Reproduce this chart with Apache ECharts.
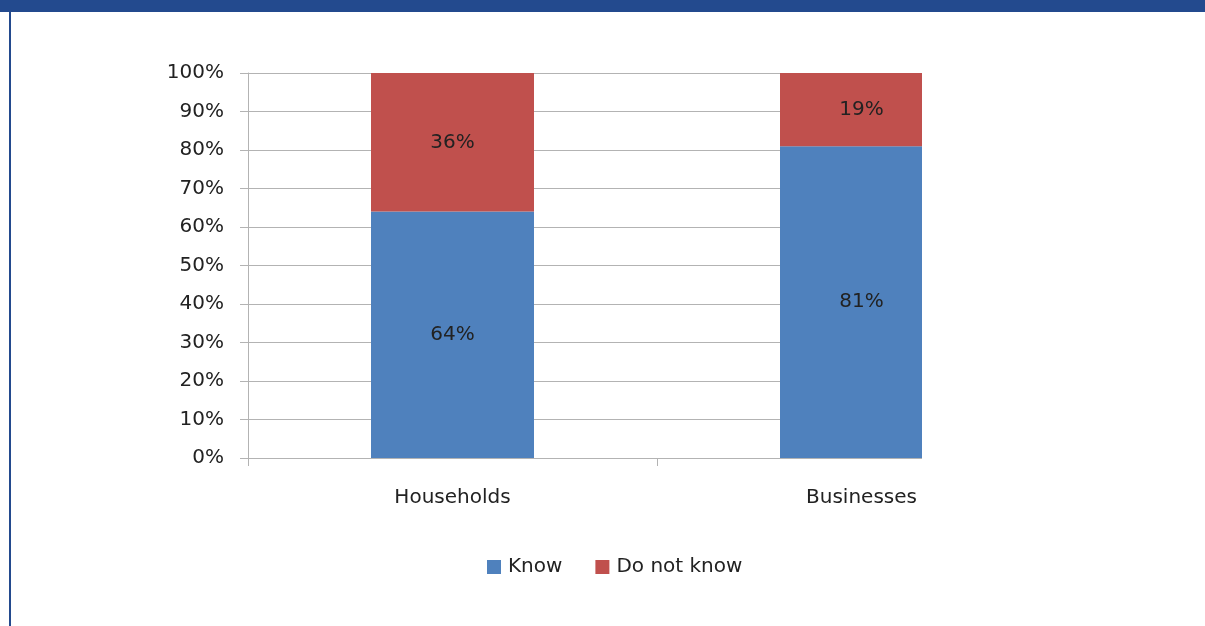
<!DOCTYPE html>
<html>
<head>
<meta charset="utf-8">
<script src="https://cdn.jsdelivr.net/npm/echarts@6/dist/echarts.min.js"></script>
<style>
  html, body { margin: 0; padding: 0; background: #fff; }
  #wrap { position: relative; width: 1205px; height: 626px; overflow: hidden; background: #fff; }
  #banner { position: absolute; left: 0; top: 0; width: 1205px; height: 12px; background: #234A8E; }
  #leftline { position: absolute; left: 9px; top: 0; width: 2px; height: 626px; background: #234A8E; }
  #chart { position: absolute; left: 0; top: 0; width: 1205px; height: 626px; }
</style>
</head>
<body>
<div id="wrap">
  <div id="chart"></div>
  <div id="banner"></div>
  <div id="leftline"></div>
</div>
<script>
const categories = ['Households', 'Businesses'];
const knowValues = [64, 81];
const doNotKnowValues = [36, 19];
const yTickLabels = ['0%','10%','20%','30%','40%','50%','60%','70%','80%','90%','100%'];

const FONT = 'DejaVu Sans';
const TEXT = '#222222';
const GRID = '#b3b3b3';

const chart = echarts.init(document.getElementById('chart'), null, { renderer: 'canvas' });
chart.setOption({
  animation: false,
  backgroundColor: 'transparent',
  grid: { left: 248, right: 139, top: 73, bottom: 168, containLabel: false },
  legend: {
    data: ['Know', 'Do not know'],
    left: 487,
    top: 557,
    padding: 0,
    itemWidth: 14,
    itemHeight: 14,
    itemGap: 33,
    icon: 'rect',
    textStyle: { fontFamily: FONT, fontSize: 20, color: TEXT, padding: [0, 0, 0, 2] }
  },
  xAxis: {
    type: 'category',
    data: categories,
    splitLine: { show: false },
    axisLine: { show: true, lineStyle: { color: GRID, width: 1 } },
    axisTick: { show: true, length: 8, lineStyle: { color: GRID } },
    axisLabel: { margin: 30, fontFamily: FONT, fontSize: 20, color: TEXT }
  },
  yAxis: {
    type: 'value',
    min: 0,
    max: 100,
    interval: 10,
    axisLine: { show: true, lineStyle: { color: GRID, width: 1 } },
    axisTick: { show: true, length: 8, inside: false, lineStyle: { color: GRID } },
    splitLine: { show: true, lineStyle: { color: GRID, width: 1 } },
    axisLabel: {
      formatter: function (v) { return yTickLabels[Math.round(v / 10)]; },
      margin: 24,
      fontFamily: FONT, fontSize: 20, color: TEXT
    }
  },
  // the reference picture is cut off at the right edge of the plot (x = 921)
  graphic: [{
    type: 'rect',
    z: 100,
    shape: { x: 922, y: 13, width: 283, height: 457 },
    style: { fill: '#ffffff' }
  }],
  series: [
    {
      name: 'Know', type: 'bar', stack: 'total', barWidth: 163,
      data: knowValues,
      itemStyle: { color: '#4F81BD' },
      label: { show: true, position: 'inside', formatter: '{c}%', fontFamily: FONT, fontSize: 20, color: TEXT }
    },
    {
      name: 'Do not know', type: 'bar', stack: 'total', barWidth: 163,
      data: doNotKnowValues,
      itemStyle: { color: '#C0504D' },
      label: { show: true, position: 'inside', formatter: '{c}%', fontFamily: FONT, fontSize: 20, color: TEXT }
    }
  ]
});
</script>
</body>
</html>
